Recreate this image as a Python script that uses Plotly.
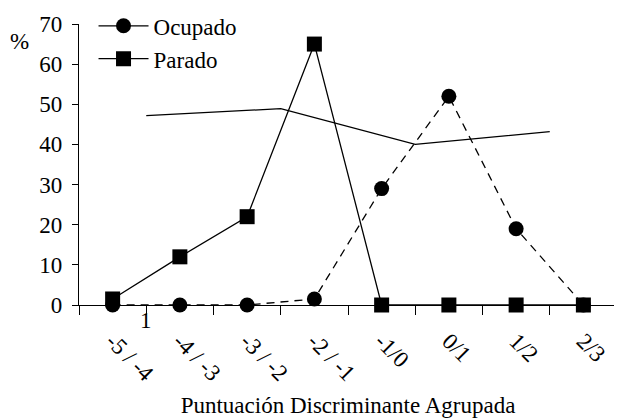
import plotly.graph_objects as go

categories = ["-5 / -4", "-4 / -3", "-3 / -2", "-2 / -1", "-1/0", "0/1", "1/2", "2/3"]
ocupado = [0, 0, 0, 1.5, 29, 52, 19, 0]
parado = [1.5, 12, 22, 65, 0, 0, 0, 0]
thin_x = [0.5, 2.5, 4.5, 6.5]
thin_y = [47.2, 48.9, 40, 43.2]
yticks = [0, 10, 20, 30, 40, 50, 60, 70]

FONT = "Liberation Serif"
FS = 23
xpos = list(range(len(categories)))

fig = go.Figure()
fig.add_trace(go.Scatter(
    x=xpos, y=ocupado, name="Ocupado", mode="lines+markers", showlegend=False,
    line=dict(color="black", width=1.3, dash="8px,6px"),
    marker=dict(symbol="circle", size=15, color="black"),
    cliponaxis=False,
))
fig.add_trace(go.Scatter(
    x=xpos, y=parado, name="Parado", mode="lines+markers", showlegend=False,
    line=dict(color="black", width=1.3),
    marker=dict(symbol="square", size=15, color="black"),
    cliponaxis=False,
))
fig.add_trace(go.Scatter(
    x=thin_x, y=thin_y, mode="lines", showlegend=False,
    line=dict(color="black", width=1.3), hoverinfo="skip",
))
# legend entries (solid line + marker, as in the original key)
fig.add_trace(go.Scatter(
    x=[None], y=[None], name="Ocupado", mode="lines+markers",
    line=dict(color="black", width=1.3),
    marker=dict(symbol="circle", size=15, color="black"),
))
fig.add_trace(go.Scatter(
    x=[None], y=[None], name="Parado", mode="lines+markers",
    line=dict(color="black", width=1.3),
    marker=dict(symbol="square", size=15, color="black"),
))
# boundary ticks axis
fig.add_trace(go.Scatter(x=[-0.5, 7.5], y=[None, None], xaxis="x2", showlegend=False,
                         hoverinfo="skip", mode="lines"))

fig.update_layout(
    width=614, height=411,
    margin=dict(l=71, r=5, t=16, b=113.5, autoexpand=False),
    paper_bgcolor="white", plot_bgcolor="white",
    font=dict(family=FONT, size=FS, color="black"),
    showlegend=True,
    legend=dict(x=0.027, y=1.07, xanchor="left", yanchor="top",
                bgcolor="rgba(0,0,0,0)", font=dict(size=FS),
                tracegroupgap=0, itemwidth=50),
    xaxis=dict(
        range=[-0.5, 7.5], tickmode="array", tickvals=xpos, ticktext=categories,
        tickangle=45, ticks="", showgrid=False, zeroline=False,
        showline=False, tickfont=dict(size=FS), ticklabelstandoff=17,
        automargin=False,
        title=dict(text="Puntuación Discriminante Agrupada", font=dict(size=FS), standoff=11),
    ),
    xaxis2=dict(
        range=[-0.5, 7.5], overlaying="x", side="bottom", anchor="y",
        tickmode="array", tickvals=[i - 0.5 for i in range(len(categories) + 1)],
        ticks="outside", ticklen=9, tickwidth=1.3, tickcolor="black",
        showticklabels=False, showgrid=False, zeroline=False,
        showline=True, linecolor="black", linewidth=1.3, automargin=False,
    ),
    yaxis=dict(
        range=[0, 70], tickmode="array", tickvals=yticks,
        ticks="outside", ticklen=6, tickwidth=1.3, tickcolor="black",
        showline=True, linecolor="black", linewidth=1.3,
        showgrid=False, zeroline=False, tickfont=dict(size=FS),
        ticklabelstandoff=5, automargin=False,
    ),
    annotations=[
        dict(text="%", xref="paper", yref="paper", x=-0.11, y=0.936,
             showarrow=False, font=dict(size=FS), xanchor="center", yanchor="middle"),
        dict(text="1", xref="x", yref="y", x=0.5, y=0, yshift=-15,
             showarrow=False, font=dict(size=FS), xanchor="center", yanchor="middle"),
    ],
)

fig.write_html("out.html")
